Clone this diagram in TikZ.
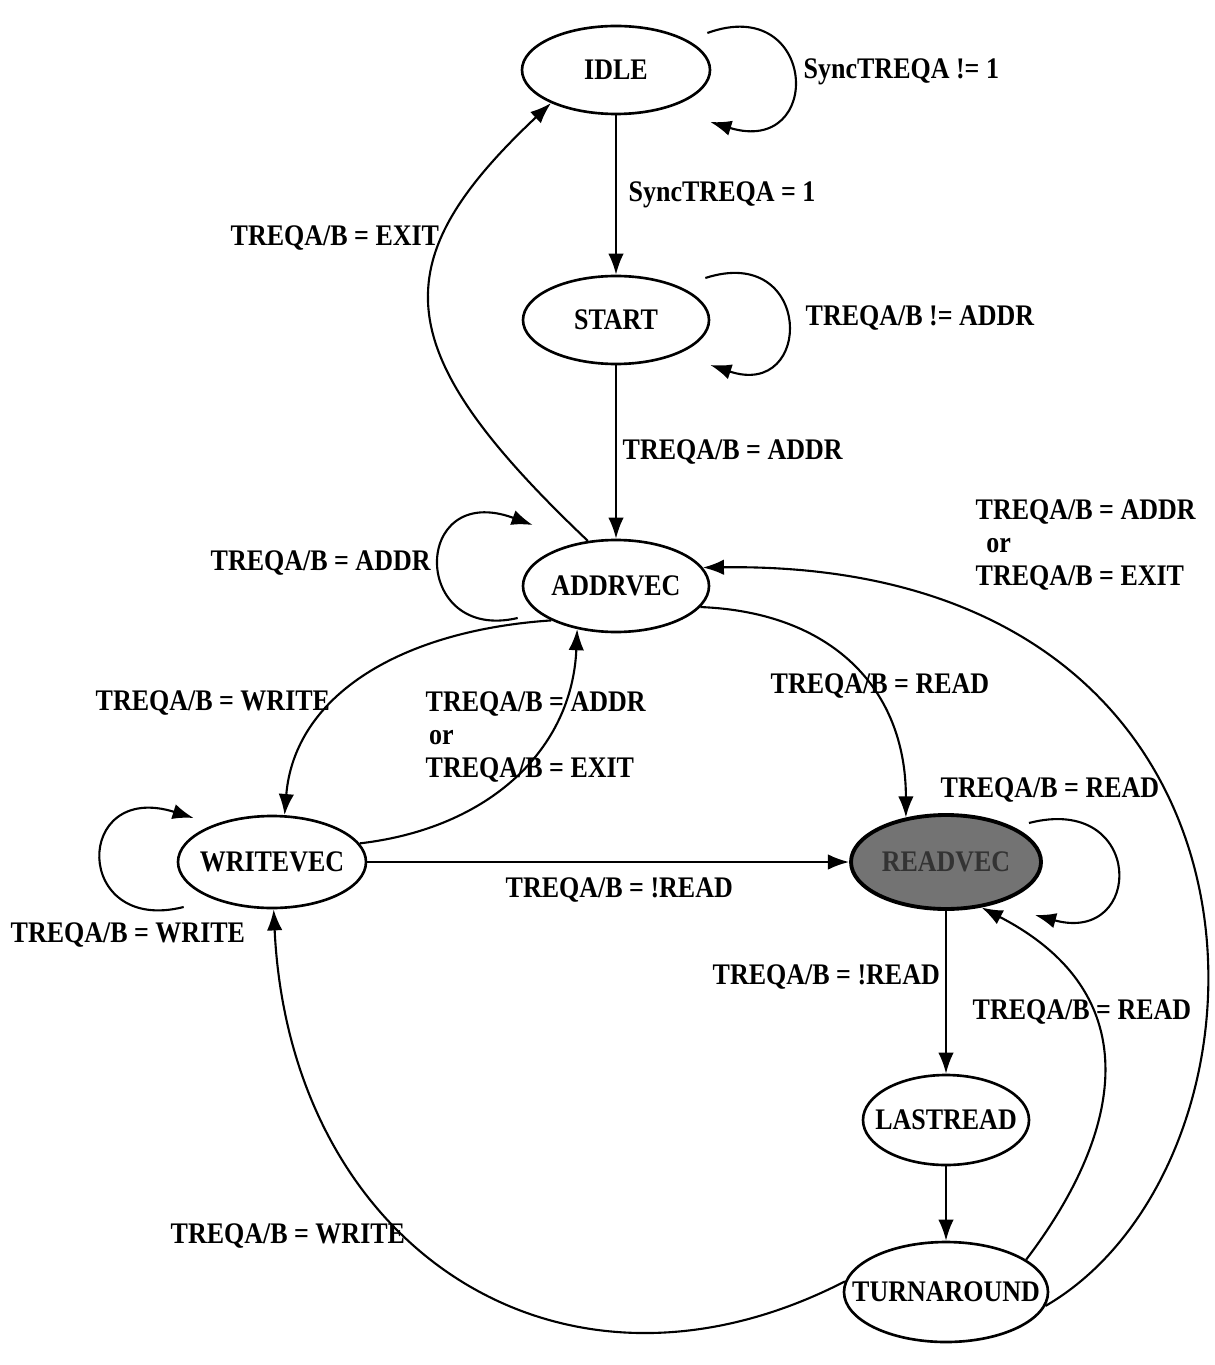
\documentclass[tikz,border=0pt]{standalone}
\usepackage{fontspec}
\setmainfont{Liberation Serif}[FakeStretch=0.87]
\usetikzlibrary{arrows.meta,shapes.geometric,calc}
\newcommand{\stname}[1]{\makebox[0pt]{#1}}

\begin{document}
\begin{tikzpicture}[
  x=0.1mm, y=-0.1mm,
  every node/.style={font=\fontsize{8.5}{9.4}\selectfont\bfseries},
  state/.style={ellipse, draw, line width=0.75pt, minimum width=18.8mm, minimum height=8.8mm, inner sep=0pt},
  hotstate/.style={state, fill=black!55, line width=1.1pt},
  arr/.style={-{Latex[length=6pt,width=4.4pt]}, line width=0.6pt},
  lbl/.style={anchor=west, inner sep=0pt, align=left}
]
\useasboundingbox (0,0) rectangle (1215,1365);

% States
\node[state] (idle) at (616,70) {\stname{IDLE}};
\node[state, minimum width=18.6mm] (start) at (616,320) {\stname{START}};
\node[state, minimum width=18.6mm, minimum height=9.2mm] (addrvec) at (616,586) {\stname{ADDRVEC}};
\node[state, minimum height=9.2mm] (writevec) at (272,862) {\stname{WRITEVEC}};
\node[hotstate, minimum width=19mm, minimum height=9.4mm] (readvec) at (946,862) {\stname{\textcolor{black!80}{READVEC}}};
\node[state, minimum width=16.6mm, minimum height=9mm] (lastread) at (946,1120) {\stname{LASTREAD}};
\node[state, minimum width=20.4mm, minimum height=10mm] (turnaround) at (946,1292) {\stname{TURNAROUND}};

% Labels
\node[lbl] (lidle) at (803,72) {SyncTREQA != 1};
\node[lbl] (lgo) at (628,195) {SyncTREQA = 1};
\node[lbl] (lexit) at (230,238) {TREQA/B = EXIT};
\node[lbl] (lwait) at (805,318) {TREQA/B != ADDR};
\node[lbl] (laddr) at (622,452) {TREQA/B = ADDR};
\node[lbl] (laddrloop) at (210,563) {TREQA/B = ADDR};
\node[lbl] (lback) at (975,545) {TREQA/B = ADDR\\\hspace{3pt}or\\TREQA/B = EXIT};
\node[lbl] (lwr) at (95,703) {TREQA/B = WRITE};
\node[lbl] (lret) at (425,737) {TREQA/B = ADDR\\\hspace{1pt}or\\TREQA/B = EXIT};
\node[lbl] (lrd) at (770,686) {TREQA/B = READ};
\node[lbl] (lrdloop) at (940,790) {TREQA/B = READ};
\node[lbl] (lnrd) at (505,890) {TREQA/B = !READ};
\node[lbl] (lwrloop) at (10,935) {TREQA/B = WRITE};
\node[lbl] (llast) at (712,977) {TREQA/B = !READ};
\node[lbl] (lrdagain) at (972,1012) {TREQA/B = READ};
\node[lbl] (lwrturn) at (170,1236) {TREQA/B = WRITE};

% Straight transitions
\draw[arr] (idle) -- (start);
\draw[arr] (start) -- (addrvec);
\draw[arr] (writevec) -- (readvec);
\draw[arr] (readvec) -- (lastread);
\draw[arr] (lastread) -- (turnaround);

% Self loops
\draw[arr] ($(idle.east)+(-4,-37)$) .. controls +(110,-40) and +(115,35) .. ($(idle.east)+(-1,52)$);
\draw[arr] ($(start.east)+(-5,-42)$) .. controls +(108,-35) and +(104,35) .. ($(start.east)+(0,45)$);
\draw[arr] ($(addrvec.west)+(-4,32)$) .. controls +(-107,25) and +(-122,-45) .. ($(addrvec.west)+(11,-61)$);
\draw[arr] ($(writevec.west)+(7,45)$) .. controls +(-111,28) and +(-121,-38) .. ($(writevec.west)+(17,-44)$);
\draw[arr] ($(readvec.east)+(-14,-39)$) .. controls +(116,-30) and +(110,30) .. ($(readvec.east)+(-8,53)$);

% Curved transitions
\draw[arr] (addrvec.122) .. controls +(-200,-190) and +(-170,160) .. (idle.207);
\draw[arr] (addrvec.208) .. controls +(-150,10) and +(10,-120) .. (writevec.75);
\draw[arr] (writevec.12) .. controls +(130,-15) and +(-5,120) .. (addrvec.228);
\draw[arr] (addrvec.-14) .. controls +(130,5) and +(0,-130) .. (readvec.132);
\draw[arr] (turnaround.22) .. controls +(95,-125) and +(170,88) .. (readvec.-52);
\draw[arr] (turnaround.174) .. controls +(-286,147) and +(16,337) .. (writevec.-88);
\draw[arr] (turnaround.-8) .. controls +(250,-145) and +(605,-8) .. (addrvec.12);
\end{tikzpicture}
\end{document}
